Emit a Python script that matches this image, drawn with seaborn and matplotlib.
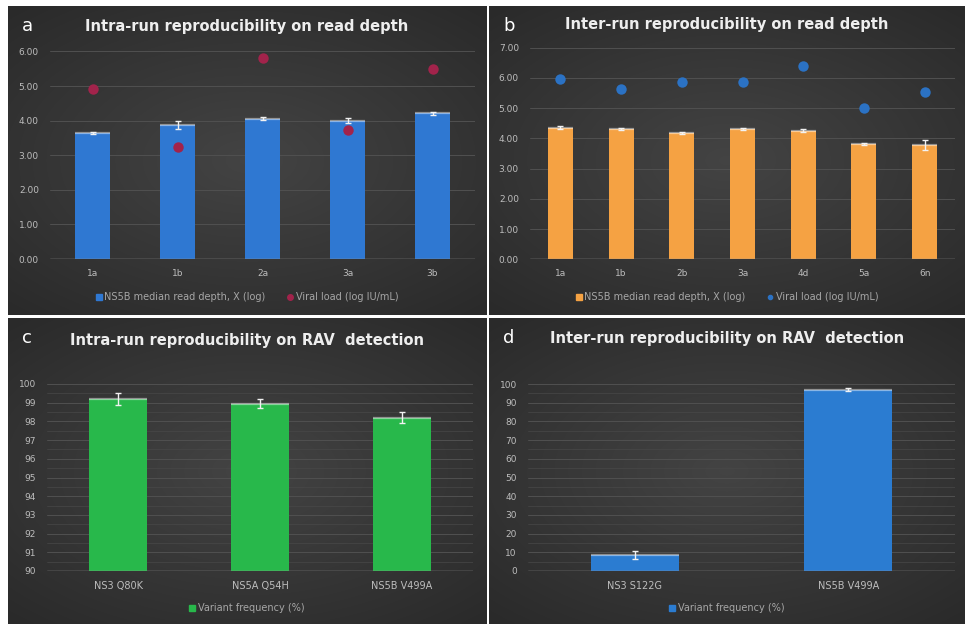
import numpy as np
import matplotlib
matplotlib.use("Agg")
import matplotlib.pyplot as plt
from matplotlib.lines import Line2D
import seaborn as sns

sns.set_theme(style="dark")
plt.rcParams["font.family"] = ["DejaVu Sans"]

# ---- data -------------------------------------------------------------
a_samples = ["1a", "1b", "2a", "3a", "3b"]
a_depth = [3.63, 3.87, 4.06, 4.00, 4.21]
a_depth_err = [0.03, 0.12, 0.03, 0.08, 0.05]
a_viral = [4.90, 3.25, 5.82, 3.73, 5.49]

b_samples = ["1a", "1b", "2b", "3a", "4d", "5a", "6n"]
b_depth = [4.36, 4.30, 4.17, 4.30, 4.26, 3.82, 3.78]
b_depth_err = [0.04, 0.03, 0.03, 0.03, 0.05, 0.03, 0.16]
b_viral = [5.98, 5.63, 5.85, 5.85, 6.40, 4.99, 5.55]

c_variants = ["NS3 Q80K", "NS5A Q54H", "NS5B V499A"]
c_freq = [99.2, 98.95, 98.2]
c_freq_err = [0.3, 0.25, 0.3]

d_variants = ["NS3 S122G", "NS5B V499A"]
d_freq = [8.5, 97.0]
d_freq_err = [2.0, 0.7]

depth_label = "NS5B median read depth, X (log)"
viral_label = "Viral load (log IU/mL)"
freq_label = "Variant frequency (%)"

# ---- styling ----------------------------------------------------------
W, H = 965, 624
TICK_C = "#bdbdbd"
GRID_C = "#505050"
AXIS_C = "#9a9a9a"
BLUE = "#2f78d2"
ORANGE = "#f5a243"
GREEN = "#28b84b"
BLUE_D = "#2b7cd1"
RED_PT = "#a2234b"
BLUE_PT = "#2b72c4"

fig = plt.figure(figsize=(W / 100, H / 100), dpi=100, facecolor="white")


def px_rect(x0, x1, y0, y1):
    """Pixel box (top-left origin) -> figure fraction rect."""
    return [x0 / W, 1 - y1 / H, (x1 - x0) / W, (y1 - y0) / H]


def panel(x0, x1, y0, y1, letter, title, title_y):
    pax = fig.add_axes(px_rect(x0, x1, y0, y1), zorder=0)
    gx, gy = np.meshgrid(np.linspace(-1, 1, 200), np.linspace(-1, 1, 200))
    r = np.sqrt(gx ** 2 * 0.9 + gy ** 2 * 1.1)
    shade = 0.265 - 0.10 * np.clip(r, 0, 1.4) / 1.4
    img = np.dstack([shade, shade, shade])
    pax.imshow(img, extent=[0, 1, 0, 1], aspect="auto", interpolation="bilinear")
    pax.set_xlim(0, 1)
    pax.set_ylim(0, 1)
    pax.axis("off")
    ph = y1 - y0
    pax.text(14 / (x1 - x0), 1 - 20 / ph, letter, color="white", fontsize=13,
             ha="left", va="center", transform=pax.transAxes)
    pax.text(0.5, 1 - (title_y - y0) / ph, title, color="#eeeeee", fontsize=10.5,
             fontweight="bold", ha="center", va="center", transform=pax.transAxes)
    return pax


def data_axes(x0, x1, y0, y1):
    ax = fig.add_axes(px_rect(x0, x1, y0, y1), zorder=1)
    ax.set_facecolor("none")
    for s in ax.spines.values():
        s.set_visible(False)
    ax.tick_params(axis="both", length=0, colors=TICK_C, labelsize=6.5)
    ax.tick_params(axis="y", pad=8)
    ax.tick_params(axis="x", pad=7)
    ax.set_xlabel("")
    ax.set_ylabel("")
    return ax


def finish(ax, cats, ymin, ymax, step, fmt, minor=None):
    ax.set_ylim(ymin, ymax)
    ax.set_xlim(-0.5, len(cats) - 0.5)
    ticks = np.arange(ymin, ymax + step / 2, step)
    ax.set_yticks(ticks)
    ax.set_yticklabels([fmt.format(t) for t in ticks])
    ax.grid(axis="y", which="major", color=GRID_C, lw=0.7)
    if minor is not None:
        ax.set_yticks(np.arange(ymin, ymax, minor), minor=True)
        ax.grid(axis="y", which="minor", color="#484848", lw=0.5)
        ax.tick_params(axis="y", which="minor", length=0)
    ax.grid(axis="x", visible=False)
    ax.axhline(ymin, color=AXIS_C, lw=1.0, zorder=5)
    ax.set_axisbelow(True)
    ax.set_xlabel("")
    ax.set_ylabel("")


def bars(ax, cats, vals, errs, color):
    sns.barplot(x=cats, y=vals, color=color, width=0.41, errorbar=None,
                saturation=1, ax=ax, zorder=2, edgecolor="none")
    # lighter rim along the top of each bar
    for p in ax.patches:
        x = p.get_x()
        w = p.get_width()
        ax.plot([x, x + w], [p.get_height()] * 2, color="white", alpha=0.45,
                lw=1.6, zorder=3, solid_capstyle="butt")
    ax.errorbar(np.arange(len(cats)), vals, yerr=errs, fmt="none",
                ecolor="#f2f2f2", elinewidth=1.0, capsize=2, capthick=1.0,
                zorder=4)


def legend(pax, handles, labels, y_px, y0, y1):
    ph = y1 - y0
    pax.legend(handles, labels, loc="center", ncol=len(handles),
               bbox_to_anchor=(0.5, 1 - (y_px - y0) / ph), frameon=False,
               fontsize=7, labelcolor="#a6a6a6", handlelength=0.6,
               handletextpad=0.3, columnspacing=2.2, borderaxespad=0)


# ---- panel a ------------------------------------------------------------
pa = panel(8, 486, 6, 315, "a", "Intra-run reproducibility on read depth", 27)
ax = data_axes(50, 475, 51.4, 259)
bars(ax, a_samples, a_depth, a_depth_err, BLUE)
sns.stripplot(x=a_samples, y=a_viral, jitter=False, color=RED_PT, size=7.5,
              linewidth=0, ax=ax, zorder=6)
finish(ax, a_samples, 0, 6, 1, "{:.2f}")
legend(pa,
       [Line2D([], [], marker="s", ls="", color=BLUE, markersize=4),
        Line2D([], [], marker="o", ls="", color=RED_PT, markersize=4)],
       [depth_label, viral_label], 297, 6, 315)

# ---- panel b ------------------------------------------------------------
pb = panel(489, 965, 6, 315, "b", "Inter-run reproducibility on read depth", 25)
ax = data_axes(530, 955, 47.7, 259.3)
bars(ax, b_samples, b_depth, b_depth_err, ORANGE)
sns.stripplot(x=b_samples, y=b_viral, jitter=False, color=BLUE_PT, size=7.5,
              linewidth=0, ax=ax, zorder=6)
finish(ax, b_samples, 0, 7, 1, "{:.2f}")
legend(pb,
       [Line2D([], [], marker="s", ls="", color=ORANGE, markersize=4),
        Line2D([], [], marker="o", ls="", color=BLUE_PT, markersize=3)],
       [depth_label, viral_label], 297, 6, 315)

# ---- panel c ------------------------------------------------------------
pc = panel(8, 486, 318, 624, "c", "Intra-run reproducibility on RAV  detection", 340)
ax = data_axes(47, 473, 384, 571)
bars(ax, c_variants, c_freq, c_freq_err, GREEN)
finish(ax, c_variants, 90, 100, 1, "{:.0f}", minor=0.5)
ax.tick_params(axis="x", labelsize=7)
legend(pc, [Line2D([], [], marker="s", ls="", color=GREEN, markersize=4)],
       [freq_label], 608, 318, 624)

# ---- panel d ------------------------------------------------------------
pd_ = panel(489, 965, 318, 624, "d", "Inter-run reproducibility on RAV  detection", 339)
ax = data_axes(528, 955, 384, 571)
bars(ax, d_variants, d_freq, d_freq_err, BLUE_D)
finish(ax, d_variants, 0, 100, 10, "{:.0f}", minor=5)
ax.tick_params(axis="x", labelsize=7)
legend(pd_, [Line2D([], [], marker="s", ls="", color=BLUE_D, markersize=4)],
       [freq_label], 608, 318, 624)

fig.savefig("out.png", dpi=100, facecolor="white")
